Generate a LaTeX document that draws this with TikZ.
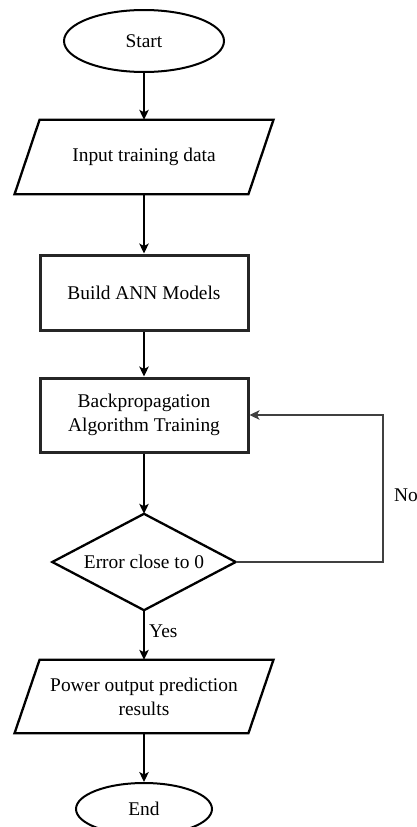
\documentclass[tikz,border=0pt]{standalone}
\usepackage{fontspec}
\setmainfont{Liberation Serif}
\usetikzlibrary{shapes.geometric,arrows.meta}
\tikzset{
  txt/.style={font=\fontsize{19.4}{24}\selectfont, align=center, inner sep=0pt},
  term/.style={txt, ellipse, draw=black, line width=2pt},
  procbox/.style={txt, rectangle, draw=black!85, line width=3pt},
  ghost/.style={txt, rectangle, draw=none},
  shapeline/.style={draw=black, line width=2.3pt, line join=miter},
  conn/.style={draw=black, line width=1.3pt, -{Stealth[length=10pt,width=9.5pt,inset=2.5pt]}},
  loopline/.style={draw=black!75, line width=1.2pt, -{Stealth[length=10pt,width=9.5pt,inset=2.5pt]}},
  lbl/.style={font=\fontsize{19.4}{24}\selectfont, inner sep=0pt, anchor=west}
}
\begin{document}
\begin{tikzpicture}[x=1pt,y=-1pt]
\useasboundingbox (0,0) rectangle (417,827);

\node[term, minimum width=160pt, minimum height=62pt] (start) at (144,41) {Start};

\node[ghost, minimum width=233.5pt, minimum height=74pt] (in) at (144,157) {Input training data};
\draw[shapeline] ([xshift=12.5pt]in.north west) -- ([xshift=12.5pt]in.north east)
  -- ([xshift=-12.5pt]in.south east) -- ([xshift=-12.5pt]in.south west) -- cycle;

\node[procbox, minimum width=208pt, minimum height=75pt] (build) at (144,292.5) {Build ANN Models};

\node[procbox, minimum width=208pt, minimum height=74pt] (bp) at (144,415) {Backpropagation\\Algorithm Training};

\node[ghost, minimum width=183pt, minimum height=96pt] (dec) at (144,562) {Error close to 0};
\draw[shapeline] (dec.north) -- (dec.east) -- (dec.south) -- (dec.west) -- cycle;

\node[ghost, minimum width=233.5pt, minimum height=73pt] (out) at (144,696.5) {Power output prediction\\results};
\draw[shapeline] ([xshift=12.5pt]out.north west) -- ([xshift=12.5pt]out.north east)
  -- ([xshift=-12.5pt]out.south east) -- ([xshift=-12.5pt]out.south west) -- cycle;

\node[term, minimum width=136pt, minimum height=52pt] (end) at (144,809) {End};

\coordinate (cornerA) at (383,562);
\coordinate (cornerB) at (383,415);

\draw[conn] (start.south) -- (in.north);
\draw[conn] (in.south) -- (build.north);
\draw[conn] (build.south) -- (bp.north);
\draw[conn] (bp.south) -- (dec.north);
\draw[conn] (dec.south) -- (out.north);
\draw[conn] (out.south) -- (end.north);
\draw[loopline] (dec.east) -- (cornerA) -- (cornerB) -- (bp.east);

\node[lbl] (yes) at (149,631) {Yes};
\node[lbl] (no) at (394,495) {No};
\end{tikzpicture}
\end{document}
